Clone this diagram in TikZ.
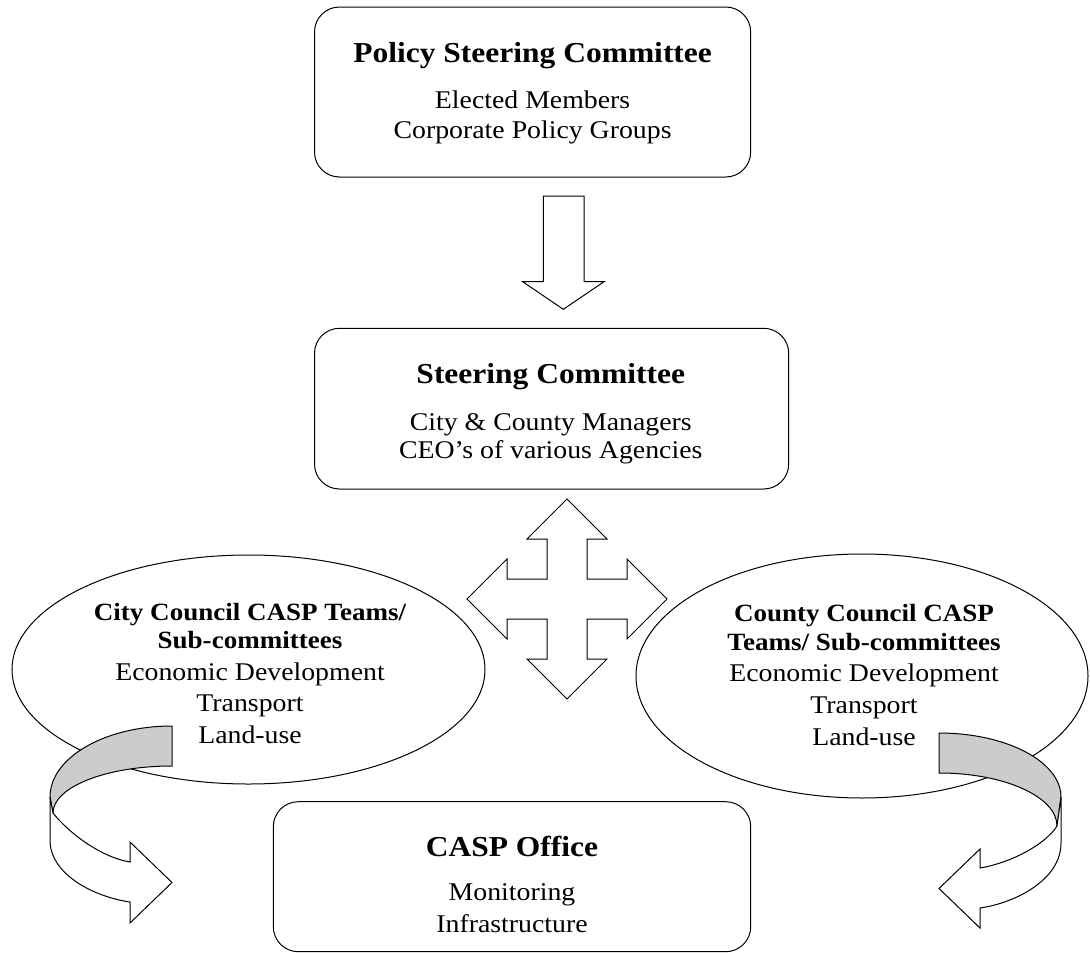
\documentclass[tikz,border=0pt]{standalone}
\usepackage{fontspec}
\setmainfont{Liberation Serif}[FakeStretch=1.09]
\usetikzlibrary{shapes.geometric}
\definecolor{bandgray}{HTML}{CCCCCC}
\begin{document}
\begin{tikzpicture}[x=1pt,y=-1pt,line width=1pt,
  boxnode/.style={draw, rounded corners=25pt, inner sep=0pt},
  ell/.style={draw, fill=white, ellipse, inner sep=0pt},
  body/.style={font=\fontsize{25.5}{30}\selectfont, anchor=base, inner sep=0pt},
  title/.style={font=\fontsize{28.9}{34}\selectfont\bfseries, anchor=base, inner sep=0pt},
  etitle/.style={font=\fontsize{24.8}{30}\selectfont\bfseries, anchor=base, inner sep=0pt},
  band/.style={draw, fill=bandgray},
  blockarrow/.style={draw, fill=white}]
\useasboundingbox (0,0) rectangle (1090,953);

% boxes
\node[boxnode, minimum width=436.2pt, minimum height=170pt] (psc) at (532.6,92) {};
\node[title] (psct) at (532.6,62.7) {Policy Steering Committee};
\node[body] (psc1) at (532.6,108.3) {Elected Members};
\node[body] (psc2) at (532.6,138.3) {Corporate Policy Groups};

\node[boxnode, minimum width=474.2pt, minimum height=160.7pt] (sc) at (551.6,408.65) {};
\node[title] (sct) at (550.75,383.3) {Steering Committee};
\node[body] (sc1) at (550.75,430) {City \& County Managers};
\node[body] (sc2) at (550.75,458.3) {CEO’s of various Agencies};

\node[boxnode, minimum width=477.4pt, minimum height=150pt] (co) at (512,876.7) {};
\node[title] (cot) at (512,856.7) {CASP Office};
\node[body] (co1) at (512,900) {Monitoring};
\node[body] (co2) at (512,932) {Infrastructure};

% ellipses
\node[ell, minimum width=473pt, minimum height=229pt] (le) at (248.5,669.5) {};
\node[etitle] (let1) at (250,620) {City Council CASP Teams/};
\node[etitle] (let2) at (250,648.3) {Sub-committees};
\node[body] (le1) at (250,680) {Economic Development};
\node[body] (le2) at (250,711.7) {Transport};
\node[body] (le3) at (250,743.3) {Land-use};

\node[ell, minimum width=452pt, minimum height=244pt] (re) at (862,676) {};
\node[etitle] (ret1) at (864,621.7) {County Council CASP};
\node[etitle] (ret2) at (864,650) {Teams/ Sub-committees};
\node[body] (re1) at (864,681.7) {Economic Development};
\node[body] (re2) at (864,713.3) {Transport};
\node[body] (re3) at (864,745) {Land-use};

% down arrow
\draw[blockarrow] (543.3,196) -- (584,196) -- (584,281.7) -- (604,281.7)
  -- (563.3,309.3) -- (522.7,281.7) -- (543.3,281.7) -- cycle;

% four-way arrow
\draw[blockarrow] (567,499) -- (607,539) -- (587,539) -- (587,579) -- (627,579)
  -- (627,559) -- (667,599) -- (627,639) -- (627,619) -- (587,619) -- (587,659)
  -- (607,659) -- (567,699) -- (527,659) -- (547,659) -- (547,619) -- (507,619)
  -- (507,639) -- (467,599) -- (507,559) -- (507,579) -- (547,579) -- (547,539)
  -- (527,539) -- cycle;

% left curved arrow
\draw[band] (172,726) arc[start angle=-90, end angle=-180, x radius=122, y radius=71]
  -- (53,813) arc[start angle=-180, end angle=-90, x radius=119, y radius=47] -- cycle;
\draw[blockarrow] (50,797) -- (50,840) .. controls (50,875) and (95,897) .. (130,902)
  -- (130,923) -- (172,882.5) -- (130,842) -- (130,862)
  .. controls (100,857) and (68,832) .. (53,813) -- cycle;

% right curved arrow
\draw[band] (939,733) arc[start angle=-90, end angle=0, x radius=122, y radius=64]
  -- (1057,826) arc[start angle=0, end angle=-90, x radius=118, y radius=53] -- cycle;
\draw[blockarrow] (1061,797) -- (1061,843) .. controls (1061,880) and (1015,903) .. (980,908)
  -- (980,928) -- (939,888.5) -- (980,849) -- (980,868)
  .. controls (1010,863) and (1045,845) .. (1057,826) -- cycle;
\end{tikzpicture}
\end{document}
